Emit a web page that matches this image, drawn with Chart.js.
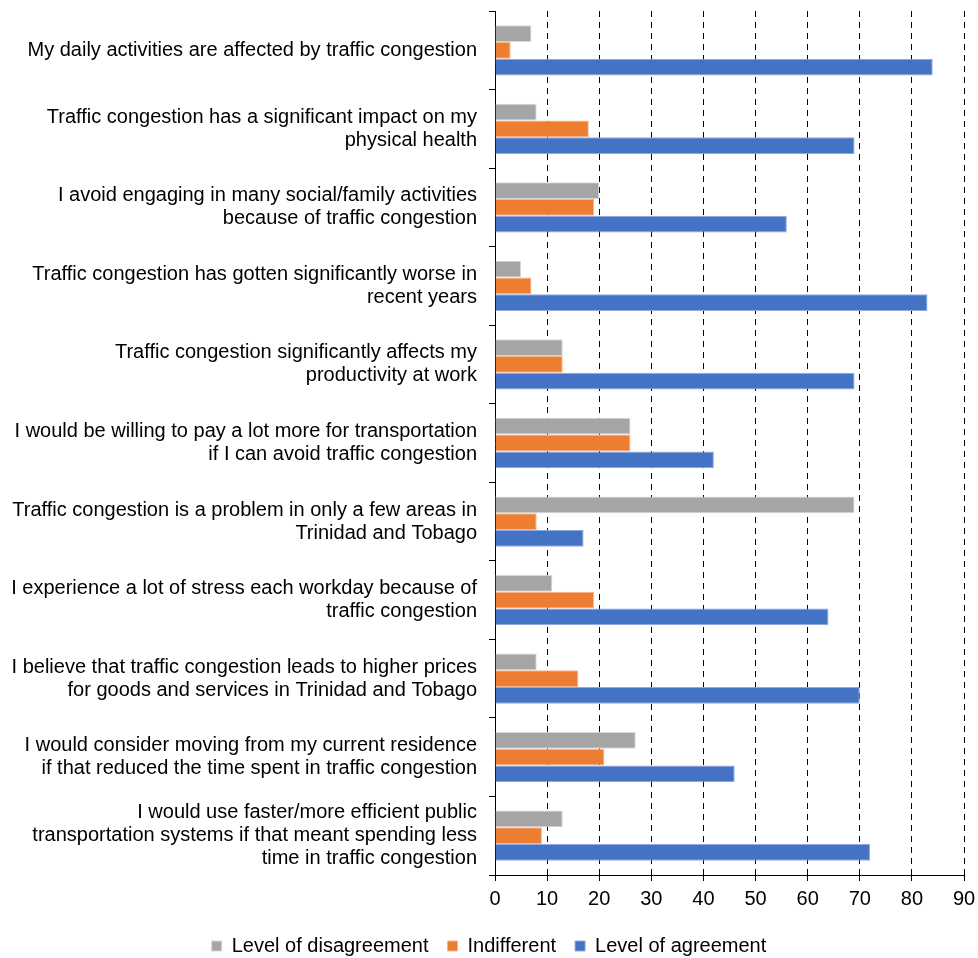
<!DOCTYPE html>
<html>
<head>
<meta charset="utf-8">
<title>Perceptions of traffic congestion</title>
<script src="https://cdn.jsdelivr.net/npm/chart.js@4/dist/chart.umd.min.js"></script>
<style>
    html, body { margin: 0; padding: 0; background: #fff; }
    #wrap { width: 978px; height: 958px; position: relative; }
</style>
</head>
<body>
<div id="wrap"><canvas id="chart"></canvas></div>
<script>
/* Survey statements (one entry per row, lines split for wrapping) */
const statements = [
    ['My daily activities are affected by traffic congestion'],
    ['Traffic congestion has a significant impact on my', 'physical health'],
    ['I avoid engaging in many social/family activities', 'because of traffic congestion'],
    ['Traffic congestion has gotten significantly worse in', 'recent years'],
    ['Traffic congestion significantly affects my', 'productivity at work'],
    ['I would be willing to pay a lot more for transportation', 'if I can avoid traffic congestion'],
    ['Traffic congestion is a problem in only a few areas in', 'Trinidad and Tobago'],
    ['I experience a lot of stress each workday because of', 'traffic congestion'],
    ['I believe that traffic congestion leads to higher prices', 'for goods and services in Trinidad and Tobago'],
    ['I would consider moving from my current residence', 'if that reduced the time spent in traffic congestion'],
    ['I would use faster/more efficient public', 'transportation systems if that meant spending less', 'time in traffic congestion']
];

const disagreement = [7, 8, 20, 5, 13, 26, 69, 11, 8, 27, 13];
const indifferent  = [3, 18, 19, 7, 13, 26, 8, 19, 16, 21, 9];
const agreement    = [84, 69, 56, 83, 69, 42, 17, 64, 70, 46, 72];

const xTicks = [0, 10, 20, 30, 40, 50, 60, 70, 80, 90];

const FONT = "'Liberation Sans', Arial, sans-serif";

function series(label, data, fill, edge) {
    return {
        label: label,
        data: data,
        backgroundColor: fill,
        borderColor: edge,
        borderWidth: 1,
        categoryPercentage: 0.64,
        barPercentage: 1.0
    };
}

const ctx = document.getElementById('chart').getContext('2d');
new Chart(ctx, {
    type: 'bar',
    data: {
        labels: statements,
        datasets: [
            series('Level of disagreement', disagreement, '#a5a5a5', '#d6d6d6'),
            series('Indifferent', indifferent, '#ed7d31', '#f6b68e'),
            series('Level of agreement', agreement, '#4472c4', '#8ea9dc')
        ]
    },
    options: {
        indexAxis: 'y',
        responsive: true,
        maintainAspectRatio: false,
        animation: false,
        // legend hangs a little low so its text sits near the bottom edge
        layout: { padding: { top: 11, right: 0, left: 0, bottom: -8 } },
        plugins: {
            tooltip: { enabled: false },
            legend: {
                position: 'bottom',
                labels: {
                    color: '#000',
                    boxWidth: 10,
                    boxHeight: 10,
                    padding: 19,
                    font: { family: FONT, size: 20 }
                }
            }
        },
        scales: {
            x: {
                min: 0,
                max: 90,
                afterBuildTicks(scale) {
                    scale.ticks = xTicks.map(v => ({ value: v }));
                },
                afterFit(scale) {
                    // just enough room on the right for the "90" label
                    scale.paddingRight = 14;
                },
                ticks: {
                    color: '#000',
                    padding: 6,
                    maxRotation: 0,
                    font: { family: FONT, size: 20 }
                },
                grid: {
                    color: c => (c.index === 0 ? 'rgba(0,0,0,0)' : '#000'),
                    lineWidth: 1,
                    drawTicks: true,
                    tickLength: 6,
                    tickColor: '#000',
                    tickBorderDash: []
                },
                border: { display: true, color: '#000', width: 1, dash: [6, 5] }
            },
            y: {
                afterFit(scale) {
                    scale.width = 495;
                    // labels sit inside their rows, no extra room needed above/below
                    scale.paddingTop = 0;
                    scale.paddingBottom = 0;
                },
                ticks: {
                    color: '#000',
                    padding: 12,
                    autoSkip: false,
                    font: { family: FONT, size: 20, lineHeight: 1.15 }
                },
                grid: {
                    drawOnChartArea: false,
                    drawTicks: true,
                    tickLength: 6,
                    tickColor: '#000'
                },
                border: { display: true, color: '#000', width: 1 }
            }
        }
    }
});
</script>
</body>
</html>
